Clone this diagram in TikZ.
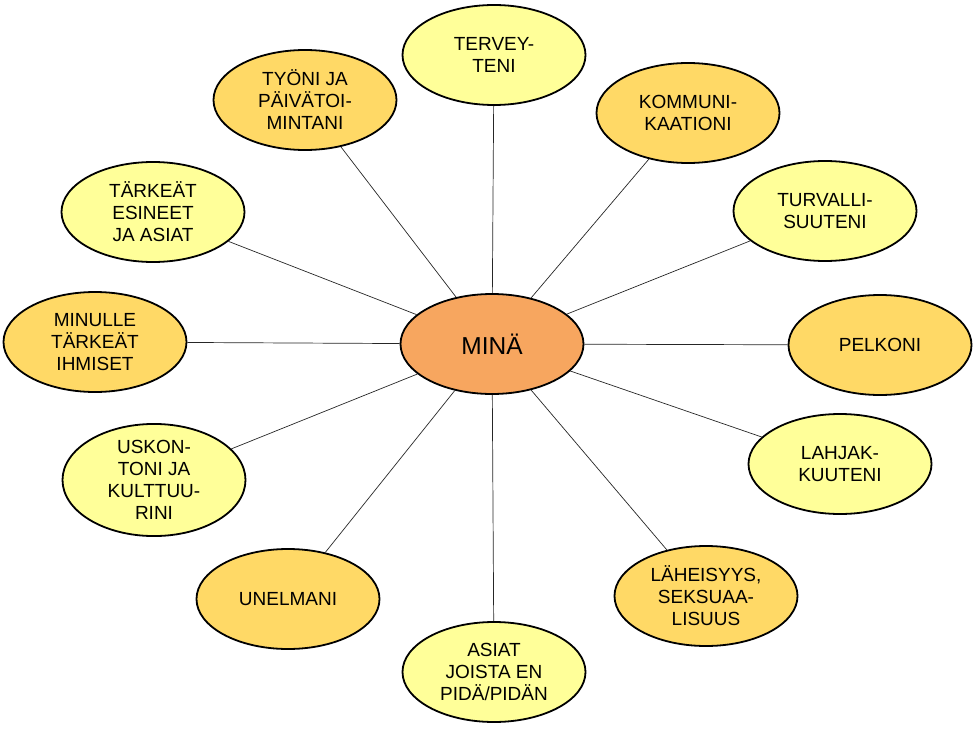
\documentclass[tikz,border=0pt]{standalone}
\usepackage{fontspec}
\setmainfont{Liberation Sans}
\usepackage{tikz}
\usetikzlibrary{shapes.geometric}
\definecolor{lightyellow}{HTML}{FFFF99}
\definecolor{darkyellow}{HTML}{FFD966}
\definecolor{centreorange}{HTML}{F7A65F}
\tikzstyle{bubble} = [ellipse, minimum width=183pt, minimum height=100pt, inner sep=0pt, align=center, draw=black, line width=1.8pt, font=\fontsize{19}{22}\selectfont]
\tikzstyle{light} = [bubble, fill=lightyellow]
\tikzstyle{dark} = [bubble, fill=darkyellow]
\tikzstyle{spoke} = [line width=0.7pt, black!85]

\begin{document}
\begin{tikzpicture}[x=1pt, y=-1pt]
\useasboundingbox (0,0) rectangle (979,730);
% Define nodes
\node (mina) [bubble, fill=centreorange, font=\fontsize{24.5}{28}\selectfont] at (492,344) {MINÄ};
\node (terveys) [light] at (494,55) {TERVEY-\\TENI};
\node (kommunikaatio) [dark] at (688,113) {KOMMUNI-\\KAATIONI};
\node (turvallisuus) [light] at (825,211) {TURVALLI-\\SUUTENI};
\node (pelko) [dark] at (880,345) {PELKONI};
\node (lahjakkuus) [light] at (840,464) {LAHJAK-\\KUUTENI};
\node (laheisyys) [dark] at (706,596) {LÄHEISYYS,\\SEKSUAA-\\LISUUS};
\node (asiat) [light] at (494,672) {ASIAT\\JOISTA EN\\PIDÄ/PIDÄN};
\node (unelmat) [dark] at (288,599) {UNELMANI};
\node (uskonto) [light] at (154,480) {USKON-\\TONI JA\\KULTTUU-\\RINI};
\node (ihmiset) [dark] at (95,342) {MINULLE\\TÄRKEÄT\\IHMISET};
\node (esineet) [light] at (153,212) {TÄRKEÄT\\ESINEET\\JA ASIAT};
\node (tyo) [dark] at (305,100) {TYÖNI JA\\PÄIVÄTOI-\\MINTANI};
% Connect nodes with spokes
\draw [spoke] (mina) -- (terveys);
\draw [spoke] (mina) -- (kommunikaatio);
\draw [spoke] (mina) -- (turvallisuus);
\draw [spoke] (mina) -- (pelko);
\draw [spoke] (mina) -- (lahjakkuus);
\draw [spoke] (mina) -- (laheisyys);
\draw [spoke] (mina) -- (asiat);
\draw [spoke] (mina) -- (unelmat);
\draw [spoke] (mina) -- (uskonto);
\draw [spoke] (mina) -- (ihmiset);
\draw [spoke] (mina) -- (esineet);
\draw [spoke] (mina) -- (tyo);
\end{tikzpicture}
\end{document}
